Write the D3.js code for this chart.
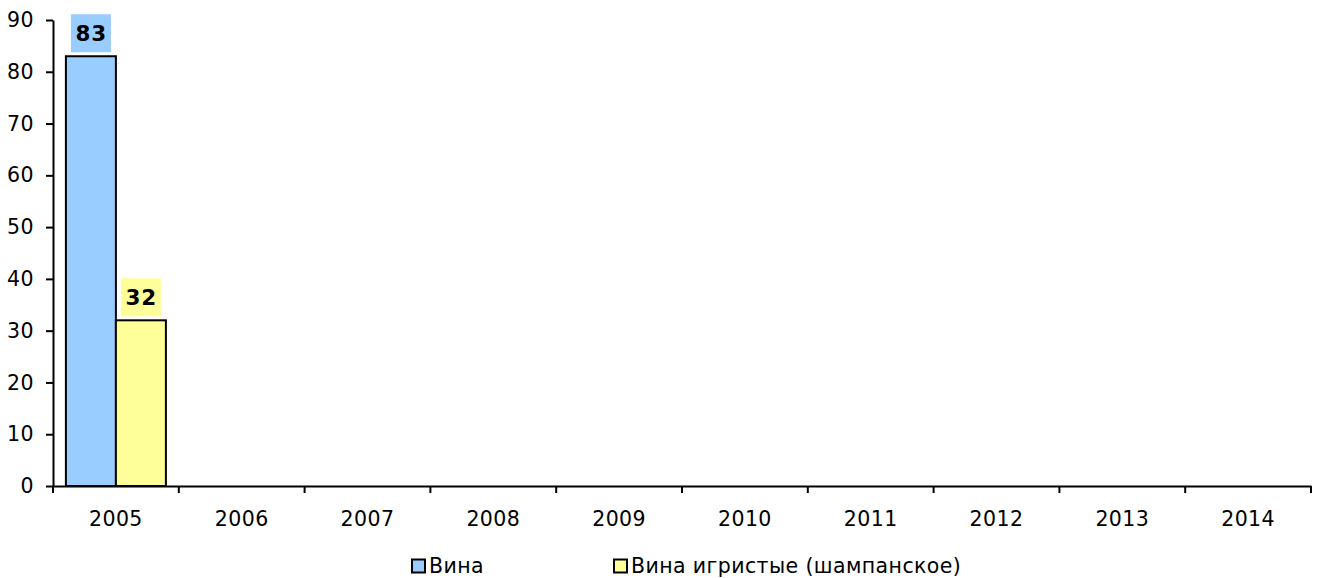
<!DOCTYPE html>
<html><head><meta charset="utf-8">
<script src="https://cdn.jsdelivr.net/npm/d3@7"></script>
<style>body{margin:0;background:#fff}svg{display:block}text{font-family:"DejaVu Sans",Verdana,sans-serif}</style>
</head><body>
<svg id="c" width="1321" height="578"></svg>
<script>
const years = ["2005","2006","2007","2008","2009","2010","2011","2012","2013","2014"];
const seriesNames = ["Вина","Вина игристые (шампанское)"];
const wines = [83,null,null,null,null,null,null,null,null,null];
const sparkling = [32,null,null,null,null,null,null,null,null,null];
const yTicks = [0,10,20,30,40,50,60,70,80,90];
const colors = ["#99ccff","#ffff99"];
const FS = 20.5;

const svg = d3.select("#c");
const x = d3.scaleBand().domain(years).range([53,1311]).padding(0);
const x1 = d3.scaleBand().domain(seriesNames).range([0,x.bandwidth()]).paddingInner(0).paddingOuter(0.258);
const y = d3.scaleLinear().domain([0,90]).range([486,20]);

const seriesVals = [wines, sparkling];
const data = [];
years.forEach((yr,i)=>seriesNames.forEach((s,j)=>{ if(seriesVals[j][i]!=null) data.push({yr,s,j,v:seriesVals[j][i]}); }));

// bars
svg.append("g").selectAll("rect").data(data).join("rect")
  .attr("x",d=>x(d.yr)+x1(d.s)).attr("width",x1.bandwidth())
  .attr("y",d=>y(d.v)).attr("height",d=>y(0)-y(d.v))
  .attr("fill",d=>colors[d.j]).attr("stroke","#000").attr("stroke-width",2);

// labels
const lg = svg.append("g").selectAll("g").data(data).join("g")
  .attr("transform",d=>`translate(${x(d.yr)+x1(d.s)+x1.bandwidth()/2},${y(d.v)-23})`);
lg.append("rect").attr("x",-20).attr("y",-19).attr("width",40).attr("height",38).attr("fill",d=>colors[d.j]);
lg.append("text").text(d=>d.v).attr("text-anchor","middle").attr("dy","0.36em").attr("dx",0.4)
  .attr("font-weight","bold").attr("font-size",21.5).attr("letter-spacing",0.8).attr("fill","#000");

// y axis
const ya = svg.append("g").attr("transform","translate(53,0)")
  .call(d3.axisLeft(y).tickValues(yTicks).tickSize(7).tickPadding(12).tickSizeOuter(0));
ya.select(".domain").attr("stroke","#000").attr("stroke-width",2);
ya.selectAll(".tick line").attr("stroke","#000").attr("stroke-width",2);
ya.selectAll(".tick text").attr("font-size",FS).attr("fill","#000").attr("font-family","DejaVu Sans").attr("letter-spacing",0.4);

// x axis
const xa = svg.append("g").attr("transform","translate(0,486)")
  .call(d3.axisBottom(x).tickSize(0).tickPadding(25));
xa.select(".domain").attr("stroke","#000").attr("stroke-width",2);
xa.selectAll(".tick text").attr("font-size",FS).attr("fill","#000").attr("font-family","DejaVu Sans").attr("letter-spacing",0.4);
const boundaries = years.map(d=>x(d)).concat([x.range()[1]]);
xa.selectAll(".bnd").data(boundaries).join("line").attr("class","bnd")
  .attr("x1",d=>d).attr("x2",d=>d).attr("y1",0).attr("y2",7).attr("stroke","#000").attr("stroke-width",2);

// legend
const legX = [411,613];
const leg = svg.append("g").selectAll("g").data(seriesNames).join("g")
  .attr("transform",(d,i)=>`translate(${legX[i]},566)`);
leg.append("rect").attr("x",1).attr("y",-6.5).attr("width",13).attr("height",13)
  .attr("fill",(d,i)=>colors[i]).attr("stroke","#000").attr("stroke-width",2);
leg.append("text").text(d=>d).attr("x",18).attr("dy","0.35em").attr("font-size",FS).attr("letter-spacing",0.4).attr("fill","#000");
</script>
</body></html>
